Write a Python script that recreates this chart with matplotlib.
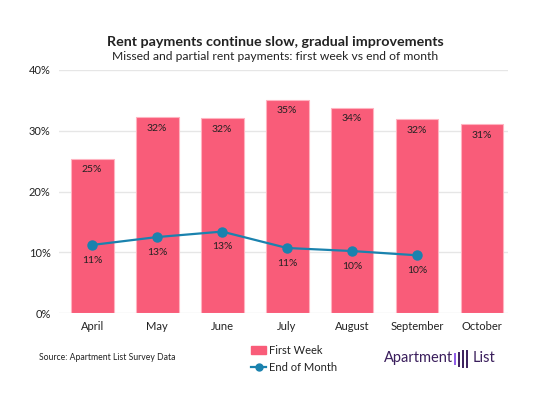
import matplotlib
matplotlib.use("Agg")
import matplotlib.pyplot as plt
from matplotlib.patches import Patch
from matplotlib.lines import Line2D

months = ["April", "May", "June", "July", "August", "September", "October"]
first_week = [25.4, 32.2, 32.1, 35.1, 33.8, 31.9, 31.1]
first_week_labels = ["25%", "32%", "32%", "35%", "34%", "32%", "31%"]
end_of_month = [11.2, 12.5, 13.4, 10.7, 10.2, 9.5]
end_of_month_labels = ["11%", "13%", "13%", "11%", "10%", "10%"]
yticks = [0, 10, 20, 30, 40]
ytick_labels = ["0%", "10%", "20%", "30%", "40%"]

plt.rcParams['font.family'] = ['Lato', 'DejaVu Sans']
PINK = "#F95C79"
BLUE = "#1A82AE"
TXT = "#222222"

fig = plt.figure(figsize=(5.5, 3.99), dpi=100)
ax = fig.add_axes([59/550, 1-313/399, (508-59)/550, (313-70)/399])

x = list(range(len(months)))
ax.bar(x, first_week, width=0.66, color=PINK, edgecolor="#FFB3C0", linewidth=0.8, zorder=2)
ax.plot(x[:len(end_of_month)], end_of_month, color=BLUE, lw=1.6, marker="o", ms=6.5, zorder=3)

for xi, v, lab in zip(x, first_week, first_week_labels):
    ax.annotate(lab, (xi, v), xytext=(0, -8), textcoords="offset points",
                ha="center", va="center", fontsize=7.5, color=TXT, zorder=4)
for xi, v, lab in zip(x, end_of_month, end_of_month_labels):
    ax.annotate(lab, (xi, v), xytext=(0, -11), textcoords="offset points",
                ha="center", va="center", fontsize=7.5, color=TXT, zorder=4)

ax.set_xlim(-0.51, 6.4)
ax.set_ylim(0, 40)
ax.set_yticks(yticks)
ax.set_yticklabels(ytick_labels)
ax.set_xticks(x)
ax.set_xticklabels(months)
ax.tick_params(axis="both", length=0, labelsize=8, colors=TXT)
ax.tick_params(axis="y", pad=6)
ax.tick_params(axis="x", pad=6)
ax.grid(axis="y", color="#E6E6E6", lw=1, zorder=0)
for s in ax.spines.values():
    s.set_visible(False)

fig.text(0.5, 1-42/399, "Rent payments continue slow, gradual improvements",
         ha="center", va="center", fontsize=10.3, fontweight="bold", color=TXT)
fig.text(0.5, 1-57/399, "Missed and partial rent payments: first week vs end of month",
         ha="center", va="center", fontsize=8.7, color=TXT)
fig.text(39/550, 1-357/399, "Source: Apartment List Survey Data",
         ha="left", va="center", fontsize=6.2, color=TXT)

handles = [Patch(facecolor=PINK, edgecolor=PINK),
           Line2D([0], [0], color=BLUE, lw=1.6, marker="o", ms=5)]
leg = fig.legend(handles, ["First Week", "End of Month"], loc="center left",
                 bbox_to_anchor=(247/550, 1-359/399), frameon=False, fontsize=8,
                 handlelength=1.3, handletextpad=0.3, labelspacing=0.6, borderaxespad=0)
for t in leg.get_texts():
    t.set_color(TXT)

PURPLE = "#3A1E5C"
VIOLET = "#8E5BE8"
fig.text(384/550, 1-358/399, "Apartment", ha="left", va="center", fontsize=10.5, color=PURPLE)
fig.text(473/550, 1-358/399, "List", ha="left", va="center", fontsize=10.5, color=PURPLE)
# simple logo mark: stacked strokes
for i, (h, c) in enumerate([(10, VIOLET), (13, PURPLE), (16, PURPLE), (16, PURPLE)]):
    xs = (455 + i*4.0)/550
    fig.add_artist(Line2D([xs, xs], [1-(359+h/2)/399, 1-(359-h/2)/399], color=c, lw=1.4))

fig.savefig("out.png", dpi=100, facecolor="white")
